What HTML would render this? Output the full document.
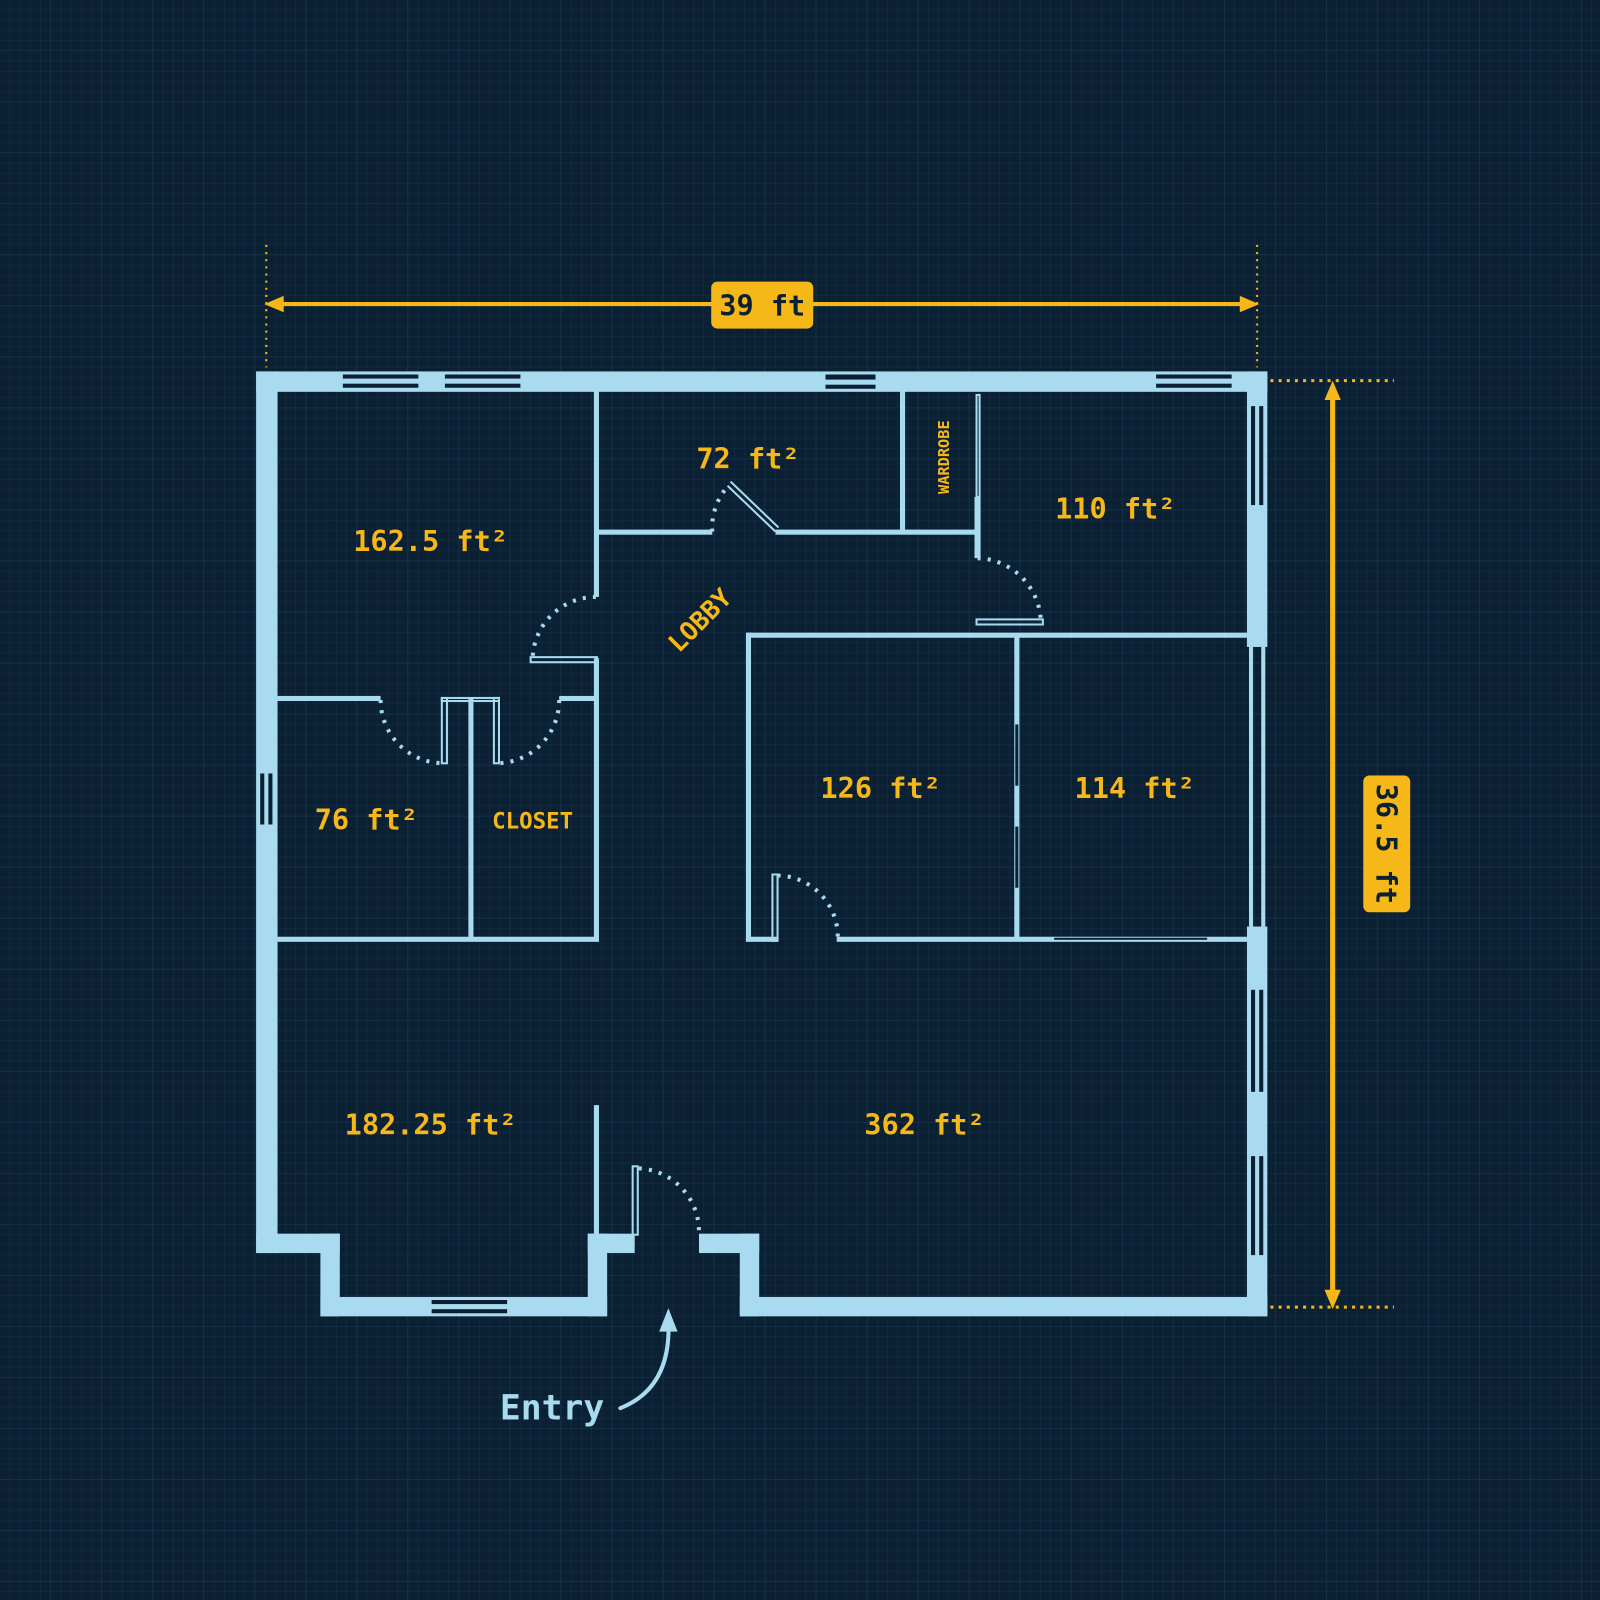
<!DOCTYPE html>
<html><head><meta charset="utf-8"><style>
html,body{margin:0;padding:0;background:#0b2033;}
svg{display:block}
.t{font-family:"DejaVu Sans Mono","Liberation Mono",monospace;font-weight:bold;fill:#f6b718}
</style></head><body>
<svg width="1600" height="1600" viewBox="0 0 1568 1568" xmlns="http://www.w3.org/2000/svg">
<defs>
<pattern id="g" width="10" height="10" patternUnits="userSpaceOnUse"><path d="M10 0V10H0" fill="none" stroke="#143049" stroke-width="1"/></pattern>
<pattern id="G" width="50" height="50" patternUnits="userSpaceOnUse"><path d="M50 0V50H0" fill="none" stroke="#1a3a55" stroke-width="1"/></pattern>
</defs>
<rect width="1568" height="1568" fill="#0b2033"/>
<rect width="1568" height="1568" fill="url(#g)"/>
<rect width="1568" height="1568" fill="url(#G)"/>

<g fill="#a8dbf0">
<!-- outer walls -->
<rect x="251" y="364" width="991" height="20"/>
<rect x="251" y="364" width="21" height="864"/>
<rect x="251" y="1209" width="82" height="19"/>
<rect x="314" y="1209" width="19" height="81"/>
<rect x="314" y="1271" width="281" height="19"/>
<rect x="576" y="1209" width="19" height="81"/>
<rect x="576" y="1209" width="46" height="19"/>
<rect x="685" y="1209" width="59" height="19"/>
<rect x="725" y="1209" width="19" height="81"/>
<rect x="725" y="1271" width="517" height="19"/>
<rect x="1222" y="364" width="20" height="270"/>
<rect x="1222" y="908" width="20" height="382"/>
<rect x="1224" y="634" width="4" height="274"/>
<rect x="1236" y="634" width="4" height="274"/>
<!-- interior walls -->
<rect x="582" y="383" width="5" height="202"/>
<rect x="582" y="645" width="5" height="277"/>
<rect x="587" y="519" width="111" height="5"/>
<rect x="760" y="519" width="198" height="5"/>
<rect x="882" y="383" width="5" height="138"/>
<rect x="955" y="487" width="6" height="60"/>
<rect x="733" y="620" width="489" height="5"/>
<rect x="731" y="620" width="5" height="302"/>
<rect x="731" y="918" width="30" height="5"/>
<rect x="820" y="918" width="402" height="5"/>
<rect x="994" y="622" width="5" height="298"/>
<rect x="272" y="682" width="101" height="5"/>
<rect x="548" y="682" width="38" height="5"/>
<rect x="459" y="684" width="5" height="236"/>
<rect x="272" y="918" width="315" height="5"/>
<rect x="582" y="1083" width="5" height="128"/>
</g>
<!-- windows (dark lines in walls) -->
<g fill="#0b2033">
<rect x="336" y="367" width="74" height="4"/><rect x="336" y="376" width="74" height="4"/>
<rect x="436" y="367" width="74" height="4"/><rect x="436" y="376" width="74" height="4"/>
<rect x="809" y="367" width="49" height="5"/><rect x="809" y="377" width="49" height="4"/>
<rect x="1133" y="367" width="74" height="4"/><rect x="1133" y="376" width="74" height="4"/>
<rect x="1226" y="398" width="4" height="97"/><rect x="1234" y="398" width="4" height="97"/>
<rect x="1226" y="970" width="4" height="100"/><rect x="1234" y="970" width="4" height="100"/>
<rect x="1226" y="1133" width="4" height="97"/><rect x="1234" y="1133" width="4" height="97"/>
<rect x="255" y="758" width="4" height="50"/><rect x="263" y="758" width="4" height="50"/>
<rect x="423" y="1274" width="74" height="4"/><rect x="423" y="1283" width="74" height="4"/>
<rect x="995" y="710" width="3" height="60"/><rect x="995" y="810" width="3" height="60"/>
<rect x="1033" y="919" width="150" height="2"/>
</g>
<!-- door leaves & sliding -->
<g fill="none" stroke="#a8dbf0" stroke-width="2">
<rect x="957" y="387" width="3" height="100"/>
<rect x="520" y="644" width="65" height="5"/>
<rect x="433" y="684" width="5" height="64"/>
<rect x="484" y="684" width="5" height="64"/>
<rect x="433" y="684" width="56" height="3"/>
<rect x="757" y="857" width="5" height="65"/>
<rect x="620" y="1143" width="5" height="67"/>
<rect x="957" y="607" width="65" height="5"/>
<path d="M713 476 L760 521 M716 472 L763 517"/>
</g>
<!-- dotted swings -->
<g fill="none" stroke="#a8dbf0" stroke-width="4" stroke-dasharray="3 7">
<path d="M584 585 A62 62 0 0 0 522 645"/>
<path d="M373 686 A62 62 0 0 0 435 748"/>
<path d="M548 686 A62 62 0 0 1 489 748"/>
<path d="M698 521 A62 62 0 0 1 712 478"/>
<path d="M958 547 A64 64 0 0 1 1020 609"/>
<path d="M762 858 A60 60 0 0 1 821 918"/>
<path d="M626 1145 A62 62 0 0 1 685 1208"/>
</g>
<!-- labels -->
<g class="t" font-size="28" text-anchor="middle">
<text x="422" y="540">162.5 ft²</text>
<text x="733" y="459">72 ft²</text>
<text x="1093" y="508">110 ft²</text>
<text x="359" y="813">76 ft²</text>
<text x="522" y="812" font-size="22">CLOSET</text>
<text x="863" y="782">126 ft²</text>
<text x="1112" y="782">114 ft²</text>
<text x="422" y="1112">182.25 ft²</text>
<text x="906" y="1112">362 ft²</text>
<text transform="translate(930 448) rotate(-90)" font-size="15">WARDROBE</text>
<text transform="translate(692 614) rotate(-45)" font-size="25">LOBBY</text>
</g>
<!-- dimensions -->
<g stroke="#f6b718" fill="none">
<path d="M261 240V360 M1232 240V360" stroke-width="2" stroke-dasharray="2 5"/>
<path d="M1245 373H1366 M1245 1281H1366" stroke-width="3" stroke-dasharray="3 5"/>
<path d="M272 298H1222" stroke-width="4"/>
<path d="M1306 388V1268" stroke-width="5"/>
</g>
<g fill="#f6b718">
<path d="M259 298L278 290V306Z"/><path d="M1234 298L1215 290V306Z"/>
<path d="M1306 373L1298 392H1314Z"/><path d="M1306 1283L1298 1264H1314Z"/>
<rect x="697" y="276" width="100" height="46" rx="6"/>
<rect x="1336" y="760" width="46" height="134" rx="6"/>
</g>
<g class="t" style="fill:#0b2033" font-size="28" text-anchor="middle">
<text x="747" y="309">39 ft</text>
<text transform="translate(1349 827) rotate(90)">36.5 ft</text>
</g>
<!-- entry -->
<path d="M608 1380 Q658 1360 655 1295" fill="none" stroke="#a8dbf0" stroke-width="4" stroke-linecap="round"/>
<path d="M655 1282L646 1305H664Z" fill="#a8dbf0"/>
<text x="541" y="1391" font-family="DejaVu Sans Mono,monospace" font-weight="bold" font-size="34" fill="#a8dbf0" text-anchor="middle">Entry</text>
</svg>
</body></html>
